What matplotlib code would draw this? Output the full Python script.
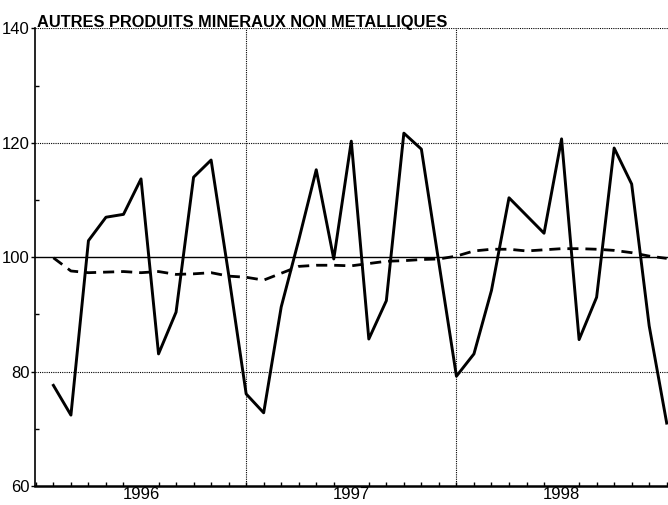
import numpy as np
import matplotlib
matplotlib.use('Agg')
import matplotlib.pyplot as plt
from matplotlib.ticker import MultipleLocator

plt.rcParams['font.family'] = ['Liberation Sans', 'DejaVu Sans']

# Serie brute mensuelle (janv. 1996 - dec. 1998) et tendance
mois = np.arange(1, 37)
brute = [77.6, 72.4, 102.9, 107.0, 107.5, 113.7, 83.1, 90.4, 114.0, 117.0, 97.0, 76.1,
         72.8, 91.3, 103.0, 115.3, 99.7, 120.3, 85.7, 92.4, 121.7, 118.9, 99.0, 79.2,
         83.1, 94.2, 110.4, 107.3, 104.2, 120.7, 85.6, 93.0, 119.1, 112.8, 88.0, 71.0]
tendance = [99.9, 97.6, 97.3, 97.4, 97.5, 97.3, 97.5, 97.0, 97.1, 97.3, 96.7, 96.5,
            96.0, 97.2, 98.4, 98.6, 98.6, 98.5, 98.9, 99.3, 99.4, 99.6, 99.7, 100.2,
            101.1, 101.4, 101.4, 101.1, 101.3, 101.5, 101.5, 101.4, 101.2, 100.8, 100.2, 99.8]
annees = ['1996', '1997', '1998']
titre = 'AUTRES PRODUITS MINERAUX NON METALLIQUES'

fig = plt.figure(figsize=(6.68, 5.05), dpi=100)
ax = fig.add_axes([35 / 668, 1 - 486 / 505, 1 - 35 / 668 + 0.002, (486 - 28.5) / 505])

# lignes de reference
ax.axhline(100, color='black', linewidth=1.0, zorder=1)
for yv in [80, 120, 140]:
    ax.axhline(yv, color='black', linewidth=0.8, linestyle=(0, (1, 1)), zorder=1)
for xv in [12, 24]:
    ax.axvline(xv, color='black', linewidth=0.8, linestyle=(0, (1, 1)), zorder=1)

ax.plot(mois, tendance, color='black', linewidth=2.0, linestyle=(0, (4, 2.5)), zorder=2)
ax.plot(mois, brute, color='black', linewidth=2.1, zorder=3)

ax.set_xlim(-0.05, 36.15)
ax.set_ylim(60, 140)

ax.spines['top'].set_visible(False)
ax.spines['right'].set_visible(False)
ax.spines['left'].set_linewidth(1.2)
ax.spines['bottom'].set_linewidth(1.8)

ax.yaxis.set_major_locator(MultipleLocator(20))
ax.yaxis.set_minor_locator(MultipleLocator(10))
ax.tick_params(axis='y', which='major', direction='out', length=3, width=1, labelsize=12, pad=1)
ax.tick_params(axis='y', which='minor', direction='in', length=3, width=1)

ax.set_xticks(np.arange(0, 37), minor=True)
ax.set_xticks([6, 18, 30])
ax.set_xticklabels(annees)
ax.tick_params(axis='x', which='major', length=0, labelsize=12, pad=1)
ax.tick_params(axis='x', which='minor', direction='in', length=3, width=1)

fig.text(37 / 668, 1 - 27 / 505, titre, fontsize=11.8, fontweight='bold',
         ha='left', va='baseline')

plt.savefig('out.png', dpi=100)
plt.close()
